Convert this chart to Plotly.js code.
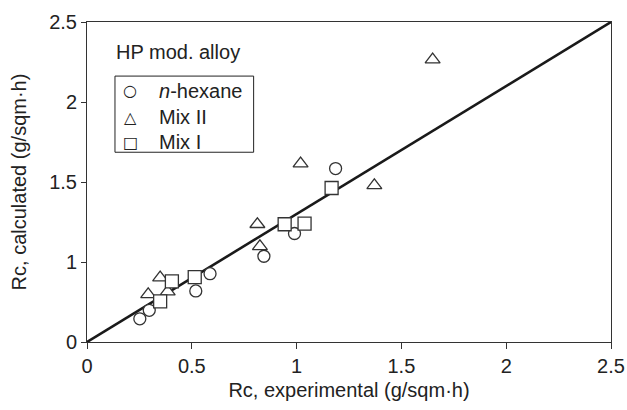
<!DOCTYPE html>
<html>
<head>
<meta charset="utf-8">
<script src="https://cdn.plot.ly/plotly-3.0.1.min.js"></script>
<style>html,body{margin:0;padding:0;background:#fff;}#chart{width:627px;height:410px;}</style>
</head>
<body>
<div id="chart"></div>
<script>
// n-hexane (circles)
const hexX = [0.252, 0.297, 0.519, 0.587, 0.844, 0.990, 1.186];
const hexY = [0.645, 0.698, 0.819, 0.927, 1.036, 1.178, 1.584];
// Mix II (triangles)
const mix2X = [0.292, 0.349, 0.385, 0.813, 0.825, 1.019, 1.371, 1.649];
const mix2Y = [0.798, 0.902, 0.815, 1.236, 1.098, 1.615, 1.479, 2.265];
// Mix I (squares)
const mix1X = [0.349, 0.405, 0.514, 0.943, 1.038, 1.167];
const mix1Y = [0.754, 0.879, 0.906, 1.236, 1.240, 1.4625];
// parity line endpoints (as drawn against the printed tick labels)
const lineX = [0, 2.5];
const lineY = [0.5, 2.5];
// axis ticks
const xTicks = [0, 0.5, 1, 1.5, 2, 2.5];
const xTickText = ['0', '0.5', '1', '1.5', '2', '2.5'];
const yTicks = [0.5, 1, 1.5, 2, 2.5];
const yTickText = ['0', '1', '1.5', '2', '2.5'];
// legend
const seriesNames = ['<i>n</i>-hexane', 'Mix II', 'Mix I'];
const seriesGlyphs = ['○', '△', '□'];
const legendTitle = 'HP mod. alloy';

const FONT = 'Liberation Sans, Arial, Helvetica, sans-serif';
const INK = '#222';
const FS = 20;
const mk = (sym, size) => ({symbol: sym, size: size, color: '#fff', line: {color: '#333', width: 1.3}});

const traces = [
  {x: lineX, y: lineY, mode: 'lines', line: {color: '#1a1a1a', width: 2.6}, showlegend: false, hoverinfo: 'skip'},
  {x: hexX, y: hexY, mode: 'markers', name: seriesNames[0], marker: mk('circle', 12)},
  {x: mix2X, y: mix2Y, mode: 'markers', name: seriesNames[1], marker: mk('triangle-up', 13)},
  {x: mix1X, y: mix1Y, mode: 'markers', name: seriesNames[2], marker: mk('square', 13)}
];

// legend geometry (paper coords)
const L = {x0: 0.0534, x1: 0.318, y0: 0.593, y1: 0.831, symX: 0.083, txtX: 0.133, rows: [0.785, 0.703, 0.625]};
const annotations = [{
  text: legendTitle, xref: 'paper', yref: 'paper', x: 0.052, y: 0.905,
  xanchor: 'left', yanchor: 'middle', showarrow: false,
  font: {family: FONT, size: FS, color: INK}
}];
seriesNames.forEach((nm, i) => {
  annotations.push({text: seriesGlyphs[i], xref: 'paper', yref: 'paper', x: L.symX, y: L.rows[i],
    xanchor: 'center', yanchor: 'middle', showarrow: false,
    font: {family: 'DejaVu Sans, sans-serif', size: 16, color: INK}});
  annotations.push({text: nm, xref: 'paper', yref: 'paper', x: L.txtX, y: L.rows[i],
    xanchor: 'left', yanchor: 'middle', showarrow: false,
    font: {family: FONT, size: FS, color: INK}});
});

const layout = {
  width: 627, height: 410,
  margin: {l: 87, r: 16, t: 22, b: 68},
  paper_bgcolor: '#fff', plot_bgcolor: '#fff',
  font: {family: FONT, size: FS, color: INK},
  showlegend: false,
  xaxis: {
    range: [0, 2.5], tickvals: xTicks, ticktext: xTickText,
    showgrid: false, zeroline: false,
    showline: true, linecolor: '#333', linewidth: 1, mirror: true,
    ticks: 'outside', ticklen: 6, tickcolor: '#333',
    tickfont: {family: FONT, size: FS, color: INK},
    title: {text: 'Rc, experimental (g/sqm·h)', font: {family: FONT, size: FS, color: INK}, standoff: 6}
  },
  yaxis: {
    range: [0.5, 2.5], tickvals: yTicks, ticktext: yTickText,
    showgrid: false, zeroline: false,
    showline: true, linecolor: '#333', linewidth: 1, mirror: true,
    ticks: 'outside', ticklen: 5, tickcolor: '#333',
    tickfont: {family: FONT, size: FS, color: INK},
    title: {text: 'Rc, calculated (g/sqm·h)', font: {family: FONT, size: FS, color: INK}, standoff: 17}
  },
  shapes: [{type: 'rect', xref: 'paper', yref: 'paper', x0: L.x0, x1: L.x1, y0: L.y0, y1: L.y1,
    line: {color: '#222', width: 1}, fillcolor: '#fff', layer: 'above'}],
  annotations: annotations
};

Plotly.newPlot('chart', traces, layout, {staticPlot: true, displayModeBar: false});
</script>
</body>
</html>
